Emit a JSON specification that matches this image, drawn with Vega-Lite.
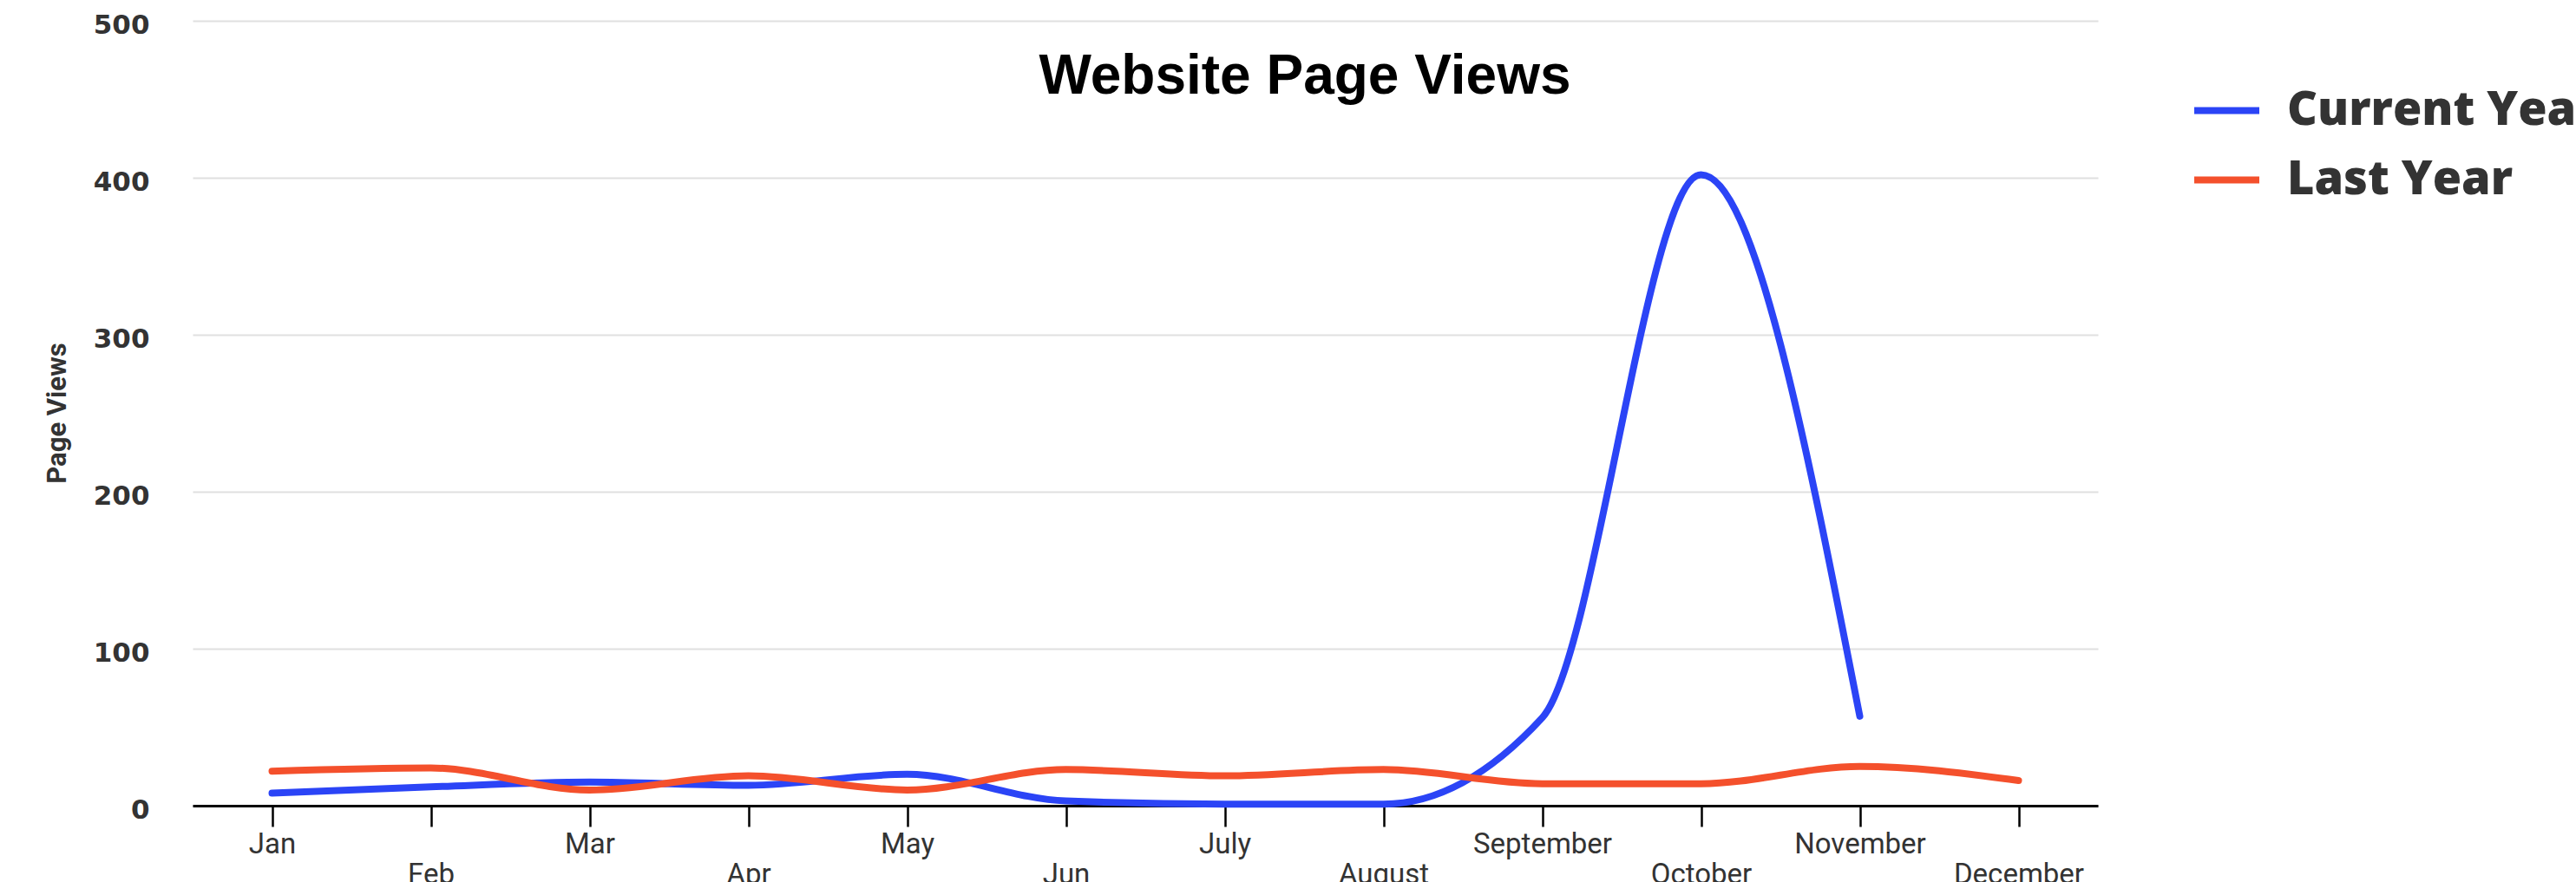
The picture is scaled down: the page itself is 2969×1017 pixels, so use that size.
{
  "$schema": "https://vega.github.io/schema/vega-lite/v6.json",
  "width": 2196,
  "height": 905,
  "autosize": {"type": "none"},
  "padding": {"left": 222, "top": 24, "right": 551, "bottom": 88},
  "background": "white",
  "title": {
    "text": "Website Page Views",
    "font": "Liberation Sans",
    "fontWeight": "bold",
    "fontSize": 64,
    "color": "#000000",
    "anchor": "middle",
    "frame": "group",
    "orient": "top",
    "offset": 0,
    "dx": 184,
    "dy": 108
  },
  "data": {
    "values": [
      {"month": "Jan", "series": "Current Year", "views": 8},
      {"month": "Feb", "series": "Current Year", "views": 12},
      {"month": "Mar", "series": "Current Year", "views": 15},
      {"month": "Apr", "series": "Current Year", "views": 13},
      {"month": "May", "series": "Current Year", "views": 20},
      {"month": "Jun", "series": "Current Year", "views": 3},
      {"month": "July", "series": "Current Year", "views": 1},
      {"month": "August", "series": "Current Year", "views": 1},
      {"month": "September", "series": "Current Year", "views": 56},
      {"month": "October", "series": "Current Year", "views": 402},
      {"month": "November", "series": "Current Year", "views": 57},
      {"month": "Jan", "series": "Last Year", "views": 22},
      {"month": "Feb", "series": "Last Year", "views": 24},
      {"month": "Mar", "series": "Last Year", "views": 10},
      {"month": "Apr", "series": "Last Year", "views": 19},
      {"month": "May", "series": "Last Year", "views": 10},
      {"month": "Jun", "series": "Last Year", "views": 23},
      {"month": "July", "series": "Last Year", "views": 19},
      {"month": "August", "series": "Last Year", "views": 23},
      {"month": "September", "series": "Last Year", "views": 14},
      {"month": "October", "series": "Last Year", "views": 14},
      {"month": "November", "series": "Last Year", "views": 25},
      {"month": "December", "series": "Last Year", "views": 16}
    ]
  },
  "mark": {"type": "line", "interpolate": "monotone", "strokeWidth": 8, "strokeCap": "round", "strokeJoin": "round"},
  "encoding": {
    "x": {
      "field": "month",
      "type": "ordinal",
      "sort": ["Jan", "Feb", "Mar", "Apr", "May", "Jun", "July", "August", "September", "October", "November", "December"],
      "scale": {"type": "point", "padding": 0.5},
      "axis": {
        "title": null,
        "grid": false,
        "domainColor": "#000000",
        "domainWidth": 3,
        "tickColor": "#000000",
        "tickWidth": 2.5,
        "tickSize": 24,
        "labelAngle": 0,
        "labelFont": "Roboto",
        "labelFontSize": 33,
        "labelColor": "#333333",
        "labelBaseline": "top",
        "labelPadding": {"condition": {"test": "indexof(['Feb','Apr','Jun','August','October','December'], datum.value) >= 0", "value": 39}, "value": 4},
        "labelOverlap": false,
        "labelLimit": 0
      }
    },
    "y": {
      "field": "views",
      "type": "quantitative",
      "scale": {"domain": [0, 500], "nice": false},
      "axis": {
        "title": "Page Views",
        "titleFont": "Roboto",
        "titleFontWeight": "bold",
        "titleFontSize": 31,
        "titleColor": "#333333",
        "titleAngle": 270,
        "titleX": -156,
        "titleY": 452,
        "titleAlign": "center",
        "titleBaseline": "middle",
        "values": [0, 100, 200, 300, 400, 500],
        "domain": false,
        "ticks": false,
        "tickSize": 0,
        "labelPadding": 50,
        "labelOffset": 5,
        "labelFlush": false,
        "labelFont": "DejaVu Sans",
        "labelFontWeight": "bold",
        "labelFontSize": 31,
        "labelColor": "#333333",
        "gridColor": "#e0e0e0",
        "gridWidth": 2
      }
    },
    "color": {
      "field": "series",
      "type": "nominal",
      "scale": {"domain": ["Current Year", "Last Year"], "range": ["#2b44f6", "#f4502c"]},
      "legend": {
        "title": null,
        "orient": "none",
        "legendX": 2303,
        "legendY": 62,
        "padding": 0,
        "symbolType": "stroke",
        "symbolSize": 5625,
        "symbolStrokeWidth": 8,
        "rowPadding": 11,
        "labelOffset": 28,
        "labelFont": "Open Sans",
        "labelFontWeight": 800,
        "labelFontSize": 54,
        "labelColor": "#333333",
        "labelLimit": 0
      }
    }
  },
  "config": {"view": {"stroke": null}}
}
